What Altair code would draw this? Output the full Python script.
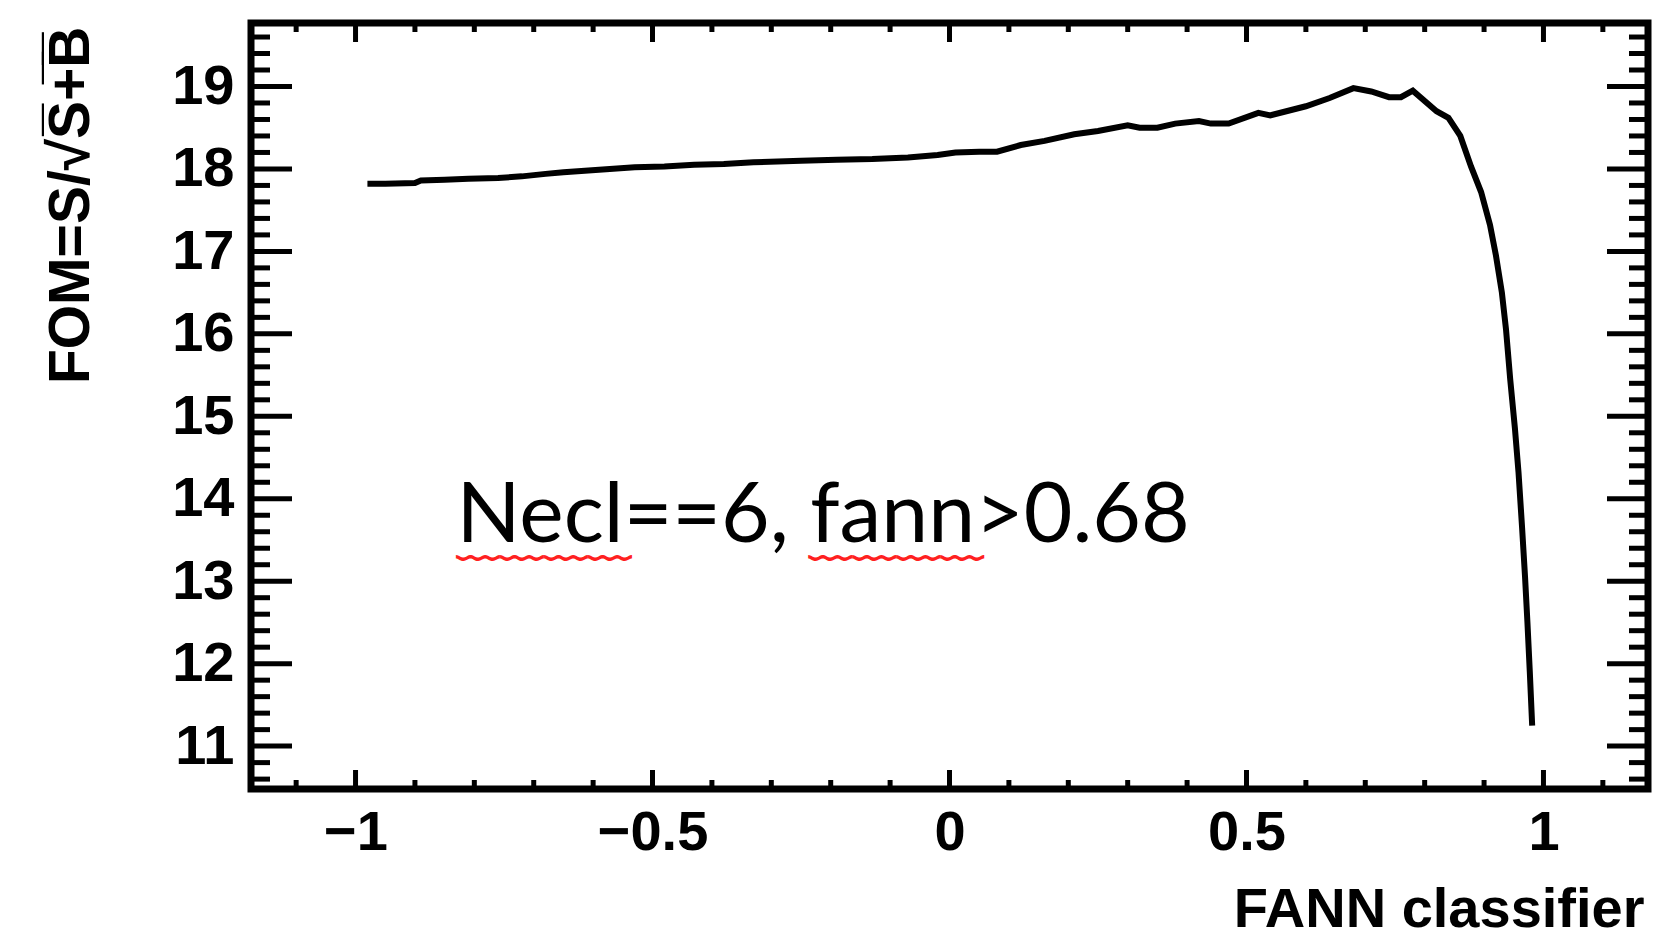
import altair as alt
import pandas as pd

# FOM curve versus FANN classifier cut value
fann = [-0.98, -0.95, -0.90, -0.89, -0.85, -0.81, -0.76, -0.72, -0.68, -0.65,
        -0.59, -0.53, -0.48, -0.43, -0.38, -0.33, -0.25, -0.19, -0.13, -0.07,
        -0.02, 0.01, 0.05, 0.08, 0.12, 0.16, 0.21, 0.25, 0.30, 0.32,
        0.35, 0.38, 0.42, 0.44, 0.47, 0.52, 0.54, 0.60, 0.64, 0.68,
        0.71, 0.74, 0.76, 0.78, 0.82, 0.84, 0.86, 0.878, 0.895, 0.91,
        0.92, 0.93, 0.937, 0.944, 0.952, 0.958, 0.964, 0.969, 0.973, 0.977,
        0.981]
fom = [17.82, 17.82, 17.83, 17.86, 17.87, 17.88, 17.89, 17.91, 17.94, 17.96,
       17.99, 18.02, 18.03, 18.05, 18.06, 18.08, 18.10, 18.11, 18.12, 18.14,
       18.17, 18.20, 18.21, 18.21, 18.29, 18.34, 18.42, 18.46, 18.53, 18.50,
       18.50, 18.55, 18.58, 18.55, 18.55, 18.68, 18.65, 18.76, 18.86, 18.98,
       18.94, 18.87, 18.87, 18.95, 18.70, 18.62, 18.40, 18.03, 17.72, 17.32,
       16.95, 16.50, 16.05, 15.45, 14.85, 14.32, 13.65, 13.05, 12.50, 11.90,
       11.25]

# axis tick positions
x_major = [-1.0, -0.5, 0.0, 0.5, 1.0]
x_minor = [-1.1, -0.9, -0.8, -0.7, -0.6, -0.4, -0.3, -0.2, -0.1,
           0.1, 0.2, 0.3, 0.4, 0.6, 0.7, 0.8, 0.9, 1.1]
y_major = [11, 12, 13, 14, 15, 16, 17, 18, 19]
y_minor = [k / 10 for k in range(106, 197, 2) if k % 10 != 0]

# annotation
note_text = ["Necl==6, fann>0.68"]
note_x = [-0.83]
note_y = [13.47]
squiggle_x = [-0.831, -0.238]
squiggle_y = [13.45, 13.45]

W, H = 1397, 766
FONT = "Liberation Sans"

xs = alt.Scale(domain=[-1.176, 1.176], nice=False, zero=False)
ys = alt.Scale(domain=[10.48, 19.77], nice=False, zero=False)

x_axis = alt.Axis(
    values=x_major, format="~g", ticks=False, tickSize=0, domain=False, grid=False,
    labelFont=FONT, labelFontSize=56, labelFontWeight="bold", labelColor="black",
    labelPadding=16, labelFlush=False, labelOverlap=False,
    title="FANN classifier", titleFont=FONT, titleFontSize=56, titleFontWeight="bold",
    titleColor="black", titleAnchor="end", titleAlign="right", titleBaseline="middle",
    titleX=W - 4, titleY=120)
y_axis = alt.Axis(
    values=y_major, format="d", ticks=False, tickSize=0, domain=False, grid=False,
    labelFont=FONT, labelFontSize=56, labelFontWeight="bold", labelColor="black",
    labelPadding=17, labelFlush=False, labelOverlap=False,
    title="FOM=S/\u221aS\u0305+\u0305B\u0305", titleFont=FONT, titleFontSize=57,
    titleFontWeight="bold", titleColor="black", titleAngle=270,
    titleAlign="right", titleBaseline="middle", titleX=-180, titleY=3)


def X(field="fann"):
    return alt.X(f"{field}:Q", scale=xs, axis=x_axis)


def Y(field="fom"):
    return alt.Y(f"{field}:Q", scale=ys, axis=y_axis)


curve = pd.DataFrame({"fann": fann, "fom": fom})

line = alt.Chart(curve).mark_line(color="black", strokeWidth=6, clip=True).encode(
    x=X(), y=Y(), order="idx:Q",
).transform_window(idx="row_number()")


def xticks(values, length):
    d = pd.DataFrame({"fann": values})
    base = alt.Chart(d).mark_rule(color="black", strokeWidth=5)
    bottom = base.encode(x=X(), y=alt.value(H), y2=alt.value(H - length))
    top = base.encode(x=X(), y=alt.value(0), y2=alt.value(length))
    return [bottom, top]


def yticks(values, length):
    d = pd.DataFrame({"fom": values})
    base = alt.Chart(d).mark_rule(color="black", strokeWidth=5)
    left = base.encode(y=Y(), x=alt.value(0), x2=alt.value(length))
    right = base.encode(y=Y(), x=alt.value(W), x2=alt.value(W - length))
    return [left, right]


ticks = xticks(x_major, 19) + xticks(x_minor, 9) + yticks(y_major, 41) + yticks(y_minor, 19)

note = alt.Chart(pd.DataFrame({"fann": note_x, "fom": note_y, "t": note_text})).mark_text(
    font="Lato", fontSize=84, align="left", baseline="alphabetic", color="black"
).encode(x=X(), y=Y(), text="t:N")

squiggle = alt.Chart(pd.DataFrame({"fann": squiggle_x, "fom": squiggle_y,
                                   "t": ["\ufe4f" * 4, "\ufe4f" * 4]})).mark_text(
    font="Noto Sans CJK SC", fontSize=44, fontWeight="bold", align="left",
    baseline="middle", color="#ff2020"
).encode(x=X(), y=Y(), text="t:N")

chart = alt.layer(line, *ticks, note, squiggle).properties(
    width=W, height=H,
    padding={"left": 251, "top": 23, "right": 6, "bottom": 149},
    autosize=alt.AutoSizeParams(type="none"),
    background="white",
).configure_view(stroke="black", strokeWidth=7)

chart.save("out.html", embed_options={"renderer": "svg", "actions": False})
